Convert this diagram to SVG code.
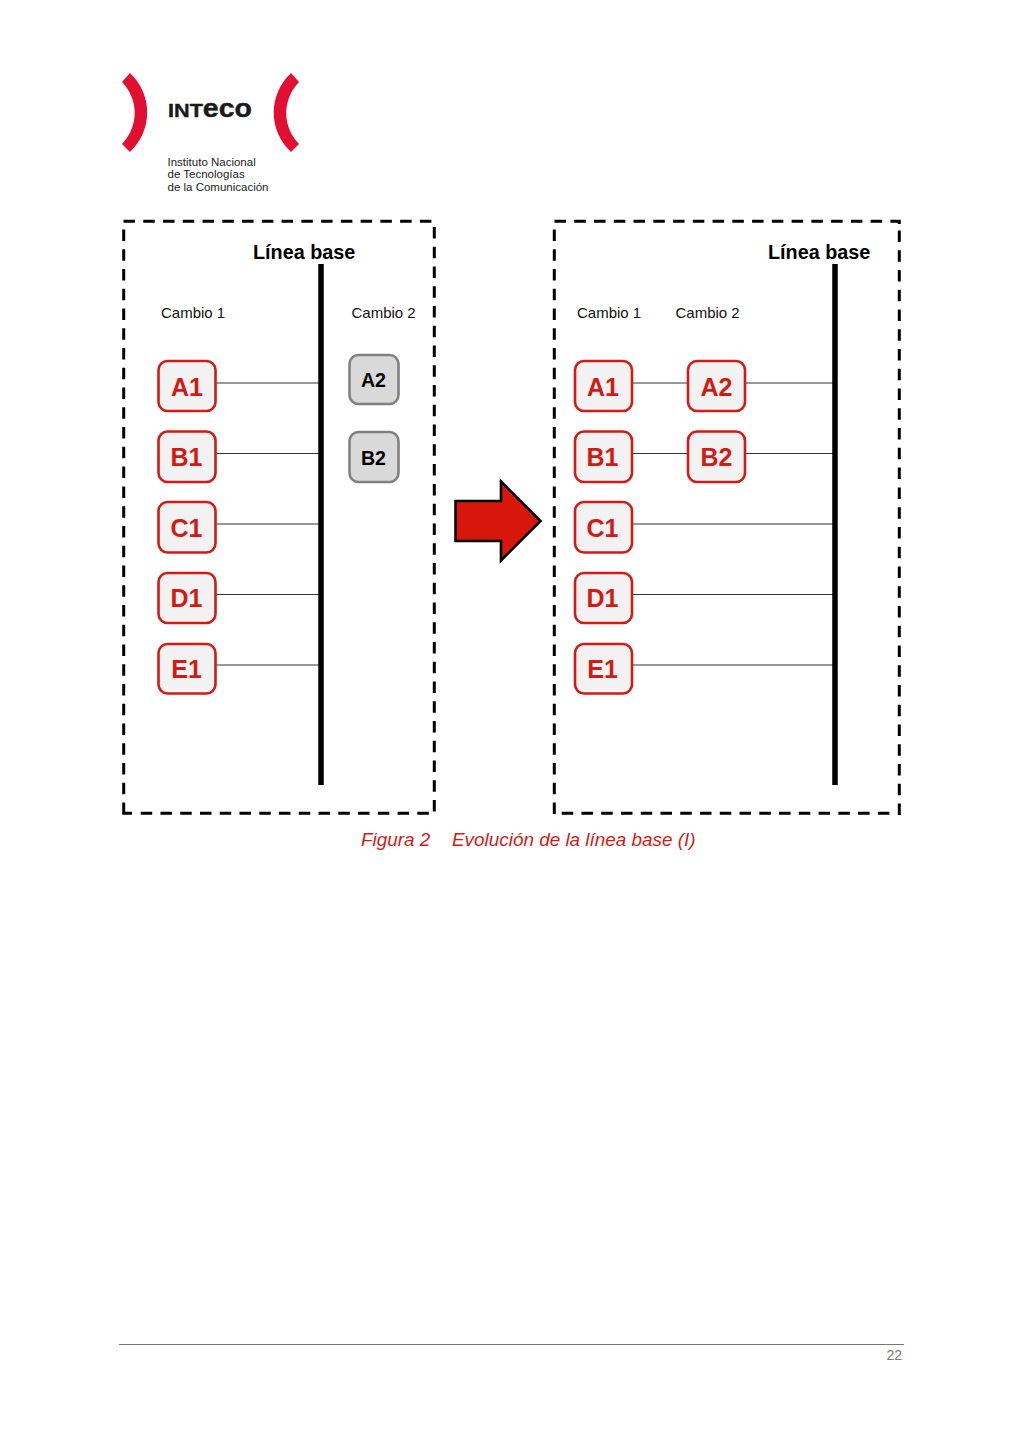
<svg xmlns="http://www.w3.org/2000/svg" width="1024" height="1448" viewBox="0 0 1024 1448">
<style>
text{font-family:"Liberation Sans",Arial,sans-serif}
.box{fill:none;stroke:#000;stroke-width:3;stroke-dasharray:11.5 8.26}
.hook{fill:none;stroke:#000;stroke-width:3}
.base{stroke:#000;stroke-width:5.5;fill:none}
.link{stroke:#333;stroke-width:1;fill:none}
.red rect{fill:#f2f2f2;stroke:#d41a14;stroke-width:2.6}
.red text{fill:#d41a14;font-weight:bold;font-size:25px;text-anchor:middle}
.gray rect{fill:#d9d9d9;stroke:#808080;stroke-width:2.6}
.gray text{fill:#000;font-weight:bold;font-size:19.6px;text-anchor:middle}
.title{font-weight:bold;font-size:19.8px;fill:#000}
.chg{font-size:15px;fill:#111}
.org{font-size:11.5px;fill:#222}
.cap{font-size:18.9px;font-style:italic;fill:#d41a14}
</style>
<g id="logo">
<path d="M130 73 C153 95 153 130 130 152 L122 144 C139 126 139 100 122 82 Z" fill="#e30f33"/>
<path d="M291 73 C268 95 268 130 291 152 L299 144 C282 126 282 100 299 82 Z" fill="#e30f33"/>
<text x="168" y="117" font-size="25" font-weight="bold" fill="#1a1a1a" stroke="#1a1a1a" stroke-width="0.4" textLength="84" lengthAdjust="spacingAndGlyphs"><tspan font-size="19">INT</tspan>eco</text>
<text class="org" x="167.500" y="166">Instituto Nacional</text>
<text class="org" x="167.500" y="178">de Tecnologías</text>
<text class="org" x="167.500" y="191">de la Comunicación</text>
</g>
<g id="connectors">
<path class="link" d="M216 383H319M216 453.500H319M216 524H319M216 594.500H319M216 665H319"/>
<path class="link" d="M632 383H688M745 383H833M632 453.500H688M745 453.500H833M632 524H833M632 594.500H833M632 665H833"/>
</g>
<g id="panel-left">
<path class="box" d="M123.500 221.300H432"/>
<path class="box" d="M434.300 227V812"/>
<path class="box" d="M123.700 229.500V795"/>
<path class="hook" d="M123.700 802.600V813.300H132"/>
<path class="box" d="M140.700 813.300H430"/>
<path class="base" d="M321 264V785"/>
<text class="title" x="253" y="259">Línea base</text>
<text class="chg" x="161" y="318">Cambio 1</text>
<text class="chg" x="351.500" y="318">Cambio 2</text>
</g>
<g id="panel-right">
<path class="box" d="M554.500 221.300H899.300V224"/>
<path class="box" d="M899.300 230.500V815"/>
<path class="box" d="M554.300 229.500V814"/>
<path class="box" d="M561.700 813.300H890"/>
<path class="base" d="M835 264V785"/>
<text class="title" x="768" y="259">Línea base</text>
<text class="chg" x="577" y="318">Cambio 1</text>
<text class="chg" x="675.500" y="318">Cambio 2</text>
</g>
<g id="l-a1" class="red"><rect x="158.500" y="361" width="57" height="50" rx="9"/><text x="187" y="395.500">A1</text></g>
<g id="l-b1" class="red"><rect x="158.500" y="431.500" width="57" height="50.500" rx="9"/><text x="186.500" y="466">B1</text></g>
<g id="l-c1" class="red"><rect x="158.500" y="502" width="57" height="50.500" rx="9"/><text x="186.500" y="536.500">C1</text></g>
<g id="l-d1" class="red"><rect x="158.500" y="573" width="57" height="50" rx="9"/><text x="186.500" y="607">D1</text></g>
<g id="l-e1" class="red"><rect x="158.500" y="644" width="57" height="49.500" rx="9"/><text x="186.500" y="677.500">E1</text></g>
<g id="l-a2" class="gray"><rect x="349.500" y="355" width="49" height="49" rx="9"/><text x="373.500" y="387">A2</text></g>
<g id="l-b2" class="gray"><rect x="349.500" y="432" width="49" height="50" rx="9"/><text x="373.500" y="464.500">B2</text></g>
<g id="arrow"><polygon points="455.500,501 501,501 501,481.500 540.500,521 501,560.500 501,541 455.500,541" fill="#d7160c" stroke="#000" stroke-width="2.600"/></g>
<g id="r-a1" class="red"><rect x="575" y="361" width="57" height="50" rx="9"/><text x="603" y="395.500">A1</text></g>
<g id="r-b1" class="red"><rect x="575" y="431.500" width="57" height="50.500" rx="9"/><text x="602.500" y="466">B1</text></g>
<g id="r-c1" class="red"><rect x="575" y="502" width="57" height="50.500" rx="9"/><text x="602.500" y="536.500">C1</text></g>
<g id="r-d1" class="red"><rect x="575" y="573" width="57" height="50" rx="9"/><text x="602.500" y="607">D1</text></g>
<g id="r-e1" class="red"><rect x="575" y="644" width="57" height="49.500" rx="9"/><text x="602.500" y="677.500">E1</text></g>
<g id="r-a2" class="red"><rect x="688" y="361" width="57" height="50" rx="9"/><text x="716.500" y="395.500">A2</text></g>
<g id="r-b2" class="red"><rect x="688" y="431.500" width="57" height="50.500" rx="9"/><text x="716.500" y="466">B2</text></g>
<g id="caption"><text class="cap" x="361" y="845.500">Figura 2</text><text class="cap" x="452" y="845.500">Evolución de la línea base (I)</text></g>
<g id="footer"><path d="M119 1344.500H904" stroke="#777" stroke-width="1"/><text x="902" y="1359.500" font-size="14" fill="#777" text-anchor="end">22</text></g>
</svg>
